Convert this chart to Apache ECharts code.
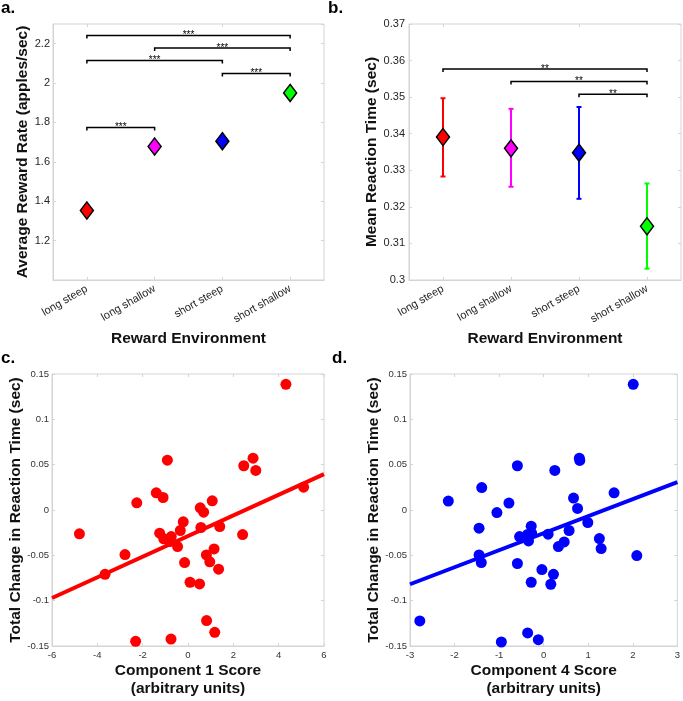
<!DOCTYPE html>
<html><head><meta charset="utf-8">
<script src="https://cdn.jsdelivr.net/npm/echarts@6/dist/echarts.min.js"></script>
<style>html,body{margin:0;padding:0;background:#fff}#chart{width:683px;height:701px}</style>
</head><body><div id="chart"></div>
<script>
// ---------- data ----------
const envCategories = ['long steep', 'long shallow', 'short steep', 'short shallow'];
const envColors = ['#ff0000', '#ff00ff', '#0000ff', '#00ff00'];

// panel a
const rewardRate = [1.353, 1.678, 1.705, 1.950];
const rewardBrackets = [[0, 3, 2.242], [1, 3, 2.178], [0, 2, 2.115], [2, 3, 2.048], [0, 1, 1.775]];
const rewardStars = '***';
const rewardAxis = { min: 1.0, max: 2.3, interval: 0.2 };

// panel b
const rtMean = [0.3391, 0.3360, 0.3348, 0.3147];
const rtLow = [0.3283, 0.3255, 0.3222, 0.3031];
const rtHigh = [0.3497, 0.3468, 0.3473, 0.3264];
const rtBrackets = [[0, 3, 0.3577], [1, 3, 0.3543], [2, 3, 0.3508]];
const rtStars = '**';
const rtAxis = { min: 0.30, max: 0.37, interval: 0.01 };

// panel c
const comp1Points = [
  [4.32, 0.1386], [-0.91, 0.055], [2.87, 0.0572], [2.46, 0.0488], [2.99, 0.0436], [5.10, 0.0252],
  [-1.40, 0.019], [-1.10, 0.0138], [-2.26, 0.0079], [1.07, 0.0101], [0.54, 0.0024], [0.69, -0.0024],
  [-0.21, -0.013], [-0.34, -0.0226], [0.57, -0.0193], [1.40, -0.0182], [-4.79, -0.0263], [-1.25, -0.0256],
  [2.41, -0.0271], [-1.07, -0.0318], [-0.74, -0.0293], [-0.81, -0.0348], [-0.46, -0.0403], [-2.78, -0.0491],
  [1.15, -0.0429], [0.81, -0.0495], [0.96, -0.0572], [-0.15, -0.058], [1.35, -0.0653], [-3.66, -0.0709],
  [0.09, -0.0797], [0.51, -0.0815], [0.82, -0.122], [1.18, -0.1349], [-2.31, -0.1448], [-0.75, -0.1423]
];
const comp1Fit = [[-6, -0.097], [6, 0.0396]];
const comp1XAxis = { min: -6, max: 6, interval: 2 };

// panel d
const comp4Points = [
  [2.01, 0.1386], [-0.59, 0.0488], [0.80, 0.0572], [0.81, 0.0547], [0.25, 0.0436], [-1.39, 0.0248],
  [-2.14, 0.0098], [-0.78, 0.0076], [-1.05, -0.0028], [0.67, 0.0131], [0.76, 0.0017], [1.58, 0.019],
  [-1.45, -0.020], [-0.28, -0.0179], [-0.54, -0.0293], [-0.34, -0.0341], [-0.27, -0.0256], [-0.36, -0.027],
  [0.10, -0.0267], [0.57, -0.0226], [0.99, -0.0138], [1.25, -0.0315], [1.29, -0.0425], [0.46, -0.0352],
  [0.33, -0.0403], [-1.45, -0.0495], [-1.40, -0.058], [-0.59, -0.059], [2.09, -0.0502], [-0.04, -0.0657],
  [0.22, -0.0709], [-0.28, -0.0797], [0.16, -0.0819], [-2.78, -0.1224], [-0.36, -0.1356], [-0.95, -0.1456],
  [-0.12, -0.143]
];
const comp4Fit = [[-3, -0.0819], [3, 0.0307]];
const comp4XAxis = { min: -3, max: 3, interval: 1 };

const changeAxis = { min: -0.15, max: 0.15, interval: 0.05 };

// ---------- styling ----------
const FONT = '"Liberation Sans", Arial, Helvetica, sans-serif';
const BOX = '#d4d4d4';
const LABEL = '#262626';
const TITLE = { fontSize: 15.5, fontWeight: 'bold', color: '#111', fontFamily: FONT };

const grids = [
  { left: 53, top: 24, width: 271, height: 256 },
  { left: 409, top: 24, width: 272, height: 256 },
  { left: 52, top: 374, width: 272, height: 272 },
  { left: 410, top: 374, width: 271, height: 272 }
].map(g => Object.assign({ show: true, borderColor: BOX, borderWidth: 1, backgroundColor: 'transparent' }, g));

function tick() { return { show: true, inside: true, length: 3, lineStyle: { color: BOX } }; }

function catX(gi, name) {
  return {
    type: 'category', gridIndex: gi, data: envCategories, boundaryGap: true,
    axisLine: { show: true, onZero: false, lineStyle: { color: BOX } },
    axisTick: Object.assign(tick(), { alignWithLabel: true }),
    axisLabel: { rotate: 30, fontSize: 11, color: LABEL, margin: 8, fontFamily: FONT },
    name: name, nameLocation: 'middle', nameGap: 51, nameTextStyle: TITLE
  };
}
function catXTop(gi) {
  return {
    type: 'category', gridIndex: gi, position: 'top', data: envCategories, boundaryGap: true,
    axisLine: { show: false, onZero: false }, axisTick: Object.assign(tick(), { alignWithLabel: true }),
    axisLabel: { show: false }
  };
}
function valAxis(gi, rng, pos, opts) {
  return Object.assign({
    type: 'value', gridIndex: gi, position: pos, min: rng.min, max: rng.max, interval: rng.interval,
    axisLine: { show: true, onZero: false, lineStyle: { color: BOX } }, axisTick: tick(), splitLine: { show: false },
    axisLabel: { show: false }
  }, opts || {});
}
const hiddenLine = { show: false, onZero: false };

const xAxis = [
  catX(0, 'Reward Environment'),
  catX(1, 'Reward Environment'),
  valAxis(2, comp1XAxis, 'bottom', {
    axisLabel: { show: true, fontSize: 9.5, color: '#333', margin: 4, fontFamily: FONT },
    name: 'Component 1 Score\n(arbitrary units)', nameLocation: 'middle', nameGap: 16,
    nameTextStyle: Object.assign({ lineHeight: 18 }, TITLE)
  }),
  valAxis(3, comp4XAxis, 'bottom', {
    axisLabel: { show: true, fontSize: 9.5, color: '#333', margin: 4, fontFamily: FONT },
    name: 'Component 4 Score\n(arbitrary units)', nameLocation: 'middle', nameGap: 16,
    nameTextStyle: Object.assign({ lineHeight: 18 }, TITLE)
  }),
  catXTop(0), catXTop(1),
  valAxis(2, comp1XAxis, 'top', { axisLine: hiddenLine }),
  valAxis(3, comp4XAxis, 'top', { axisLine: hiddenLine })
];

const yAxis = [
  valAxis(0, rewardAxis, 'left', {
    axisLabel: { show: true, fontSize: 11, color: LABEL, margin: 3, fontFamily: FONT, showMinLabel: false, showMaxLabel: false },
    name: 'Average Reward Rate (apples/sec)', nameLocation: 'middle', nameGap: 19, nameTextStyle: TITLE
  }),
  valAxis(1, rtAxis, 'left', {
    axisLabel: { show: true, fontSize: 11, color: LABEL, margin: 4, fontFamily: FONT },
    name: 'Mean Reaction Time (sec)', nameLocation: 'middle', nameGap: 25, nameTextStyle: TITLE
  }),
  valAxis(2, changeAxis, 'left', {
    axisLabel: { show: true, fontSize: 9.5, color: '#333', margin: 3, fontFamily: FONT },
    name: 'Total Change in Reaction Time (sec)', nameLocation: 'middle', nameGap: 26, nameTextStyle: TITLE
  }),
  valAxis(3, changeAxis, 'left', {
    axisLabel: { show: true, fontSize: 9.5, color: '#333', margin: 3, fontFamily: FONT },
    name: 'Total Change in Reaction Time (sec)', nameLocation: 'middle', nameGap: 26, nameTextStyle: TITLE
  }),
  valAxis(0, rewardAxis, 'right', { axisLine: hiddenLine }),
  valAxis(1, rtAxis, 'right', { axisLine: hiddenLine }),
  valAxis(2, changeAxis, 'right', { axisLine: hiddenLine }),
  valAxis(3, changeAxis, 'right', { axisLine: hiddenLine })
];

function bracketRenderer(stars) {
  return function (params, api) {
    const p1 = api.coord([api.value(0), api.value(2)]);
    const p2 = api.coord([api.value(1), api.value(2)]);
    const drop = 3;
    return {
      type: 'group', children: [
        { type: 'polyline', shape: { points: [[p1[0], p1[1] + drop], [p1[0], p1[1]], [p2[0], p2[1]], [p2[0], p2[1] + drop]] },
          style: { stroke: '#000', lineWidth: 1.5, fill: null } },
        { type: 'text', x: (p1[0] + p2[0]) / 2, y: p1[1] + 5,
          style: { text: stars, fontSize: 10, fontFamily: FONT, align: 'center', verticalAlign: 'bottom', fill: '#000' } }
      ]
    };
  };
}

function errRender(params, api) {
  const i = api.value(0);
  const lo = api.coord([i, api.value(1)]);
  const hi = api.coord([i, api.value(2)]);
  const c = envColors[params.dataIndex];
  const cap = 2.5;
  const st = { stroke: c, lineWidth: 2 };
  return {
    type: 'group', children: [
      { type: 'line', shape: { x1: lo[0], y1: lo[1], x2: hi[0], y2: hi[1] }, style: st },
      { type: 'line', shape: { x1: lo[0] - cap, y1: lo[1], x2: lo[0] + cap, y2: lo[1] }, style: st },
      { type: 'line', shape: { x1: hi[0] - cap, y1: hi[1], x2: hi[0] + cap, y2: hi[1] }, style: st }
    ]
  };
}

function diamonds(vals) {
  return vals.map((v, i) => ({ value: [i, v], itemStyle: { color: envColors[i] } }));
}

const series = [
  { type: 'custom', xAxisIndex: 0, yAxisIndex: 0, renderItem: bracketRenderer(rewardStars),
    data: rewardBrackets, encode: { x: [0, 1], y: 2 }, silent: true },
  { type: 'scatter', xAxisIndex: 0, yAxisIndex: 0, symbol: 'diamond', symbolSize: [13, 17],
    itemStyle: { borderColor: '#000', borderWidth: 1.5, opacity: 1 }, data: diamonds(rewardRate) },
  { type: 'custom', xAxisIndex: 1, yAxisIndex: 1, renderItem: bracketRenderer(rtStars),
    data: rtBrackets, encode: { x: [0, 1], y: 2 }, silent: true },
  { type: 'custom', xAxisIndex: 1, yAxisIndex: 1, renderItem: errRender,
    data: envCategories.map((c, i) => [i, rtLow[i], rtHigh[i]]), encode: { x: 0, y: [1, 2] }, silent: true },
  { type: 'scatter', xAxisIndex: 1, yAxisIndex: 1, symbol: 'diamond', symbolSize: [13, 17],
    itemStyle: { borderColor: '#000', borderWidth: 1.5, opacity: 1 }, data: diamonds(rtMean), z: 5 },
  { type: 'scatter', xAxisIndex: 2, yAxisIndex: 2, symbol: 'circle', symbolSize: 11,
    itemStyle: { color: '#ff0000', opacity: 1 }, data: comp1Points },
  { type: 'line', xAxisIndex: 2, yAxisIndex: 2, data: comp1Fit, showSymbol: false, symbol: 'none',
    lineStyle: { color: '#ff0000', width: 4 } },
  { type: 'scatter', xAxisIndex: 3, yAxisIndex: 3, symbol: 'circle', symbolSize: 11,
    itemStyle: { color: '#0000ff', opacity: 1 }, data: comp4Points },
  { type: 'line', xAxisIndex: 3, yAxisIndex: 3, data: comp4Fit, showSymbol: false, symbol: 'none',
    lineStyle: { color: '#0000ff', width: 4 } }
];

const panelLabel = (t, x, y) => ({ type: 'text', left: x, top: y,
  style: { text: t, font: 'bold 17px ' + FONT, fill: '#000' } });

const option = {
  animation: false,
  backgroundColor: '#fff',
  grid: grids,
  xAxis: xAxis,
  yAxis: yAxis,
  series: series,
  graphic: [panelLabel('a.', 1, 0), panelLabel('b.', 328, 0), panelLabel('c.', 1, 350), panelLabel('d.', 332, 350)]
};

const chart = echarts.init(document.getElementById('chart'), null, { renderer: 'canvas' });
chart.setOption(option);
</script>
</body></html>
